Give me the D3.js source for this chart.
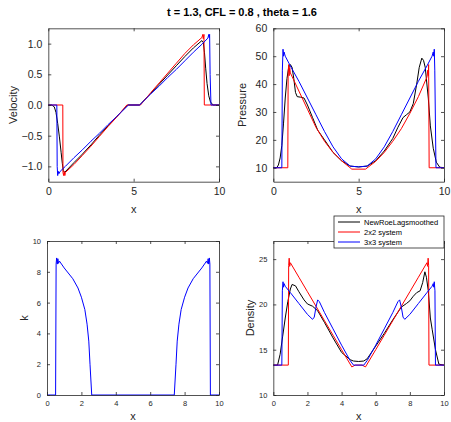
<!DOCTYPE html>
<html>
<head>
<meta charset="utf-8">
<script src="https://cdn.jsdelivr.net/npm/d3@7"></script>
<style>
  html, body { margin: 0; padding: 0; background: #fff; }
  svg { display: block; font-family: "Liberation Sans", Arial, Helvetica, sans-serif; }
</style>
</head>
<body>
<svg id="fig" width="451" height="422"></svg>
<script>
// ---- data: [x, value] samples of each solution at t = 1.3 ----
const seriesNames = ["NewRoeLagsmoothed", "2x2 system", "3x3 system"];
const seriesColors = ["#000000", "#ff0000", "#0000ff"];

const velocityBlack = [[0,0],[0.2,0],[0.35,-0.03],[0.45,-0.12],[0.55,-0.3],[0.65,-0.52],[0.75,-0.77],[0.82,-0.95],[0.88,-1.07],[0.95,-1.1],[1.5,-0.94],[2,-0.8],[2.5,-0.65],[3,-0.49],[3.5,-0.34],[4,-0.19],[4.65,0],[5.35,0],[6,0.19],[6.5,0.34],[7,0.49],[7.5,0.64],[8,0.79],[8.5,0.93],[9,1.05],[9.08,1.02],[9.15,0.85],[9.22,0.6],[9.3,0.35],[9.4,0.15],[9.5,0.05],[9.65,0],[10,0]];
const velocityRed = [[0,0],[0.85,0],[0.86,-1.1],[0.9,-1.15],[0.93,-1.08],[0.97,-1.15],[1.0,-1.1],[1.5,-0.97],[2,-0.82],[2.5,-0.67],[3,-0.51],[3.5,-0.35],[4,-0.2],[4.6,0],[5.4,0],[6,0.2],[6.5,0.36],[7,0.52],[7.5,0.68],[8,0.84],[8.5,0.98],[9,1.1],[9.05,1.15],[9.08,1.08],[9.12,1.15],[9.14,0],[10,0]];
const velocityBlue = [[0,0],[0.5,0],[0.52,-1.0],[0.55,-1.15],[0.58,-1.08],[0.62,-1.12],[0.7,-1.08],[1,-1.0],[1.5,-0.86],[2,-0.73],[2.5,-0.59],[3,-0.46],[3.5,-0.32],[4,-0.19],[4.7,0],[5.35,0],[6,0.18],[6.5,0.31],[7,0.45],[7.5,0.58],[8,0.72],[8.5,0.86],[9,0.99],[9.35,1.09],[9.4,1.15],[9.43,1.1],[9.45,1.15],[9.48,0.5],[9.53,0],[10,0]];

const pressureBlack = [[0,10],[0.2,10],[0.3,11],[0.4,13.5],[0.5,18],[0.6,26],[0.7,35],[0.8,42],[0.9,46],[1.0,47],[1.1,46],[1.2,42],[1.3,37],[1.4,35.5],[1.6,35.3],[1.8,35],[2.0,32.5],[2.3,28],[2.6,23.5],[3,20],[3.5,15.5],[4,12.5],[4.5,10.6],[5,10.3],[5.5,10.6],[6,12.5],[6.5,16],[7,20.5],[7.3,24.5],[7.6,28],[7.8,29],[8.0,30],[8.2,33],[8.4,40],[8.55,46],[8.7,49.3],[8.8,48.5],[8.9,46],[9.08,35],[9.2,25],[9.37,17],[9.55,12],[9.75,10.2],[10,10]];
const pressureRed = [[0,10],[0.85,10],[0.87,44],[0.9,47],[0.93,43],[0.96,46],[1.0,44],[1.5,37.5],[2,31],[2.5,24.5],[3,19.5],[3.5,15.5],[4,12.5],[4.6,9.5],[5.4,9.5],[6,12.3],[6.5,15.5],[7,19.5],[7.5,24],[8,29.5],[8.5,35.5],[9,42.5],[9.05,45],[9.08,43],[9.1,47],[9.13,10],[10,10]];
const pressureBlue = [[0,10],[0.5,10],[0.53,45],[0.57,52.5],[0.6,50],[0.63,51.5],[0.7,50],[1,46.5],[1.5,41],[2,35],[2.5,29],[3,23],[3.5,17.5],[4,13.2],[4.5,10.6],[5,10.3],[5.5,10.6],[6,13.2],[6.5,17.5],[7,23],[7.5,29],[8,35],[8.5,41],[9,46.5],[9.3,50],[9.37,51.5],[9.4,50],[9.43,52.5],[9.46,45],[9.53,10],[10,10]];

const kBlue = [[0,0],[0.5,0],[0.53,8.5],[0.56,8.9],[0.6,8.5],[0.63,8.85],[0.67,8.55],[0.72,8.7],[1,8.25],[1.5,7.55],[1.8,6.95],[2.0,6.35],[2.2,5.55],[2.33,4.6],[2.43,3.5],[2.5,2],[2.6,0],[7.4,0],[7.5,2],[7.57,3.5],[7.67,4.6],[7.8,5.55],[8,6.35],[8.2,6.95],[8.5,7.55],[9,8.25],[9.28,8.7],[9.33,8.55],[9.37,8.85],[9.4,8.5],[9.44,8.9],[9.47,8.5],[9.5,0],[10,0]];

const densityBlack = [[0,13.3],[0.25,13.3],[0.4,14.5],[0.55,16.5],[0.7,18.5],[0.85,20.3],[1.0,21.7],[1.1,22.2],[1.3,22.05],[1.5,21.4],[1.8,20.5],[2.0,20.05],[2.3,19.8],[2.6,19.3],[3,18],[3.5,16.3],[4,14.7],[4.5,13.9],[4.7,13.75],[5,13.7],[5.3,13.75],[5.5,14],[6,15.4],[6.5,16.8],[7,18.3],[7.5,19.7],[7.8,20.1],[8.0,20.4],[8.2,20.9],[8.4,21.3],[8.6,21.5],[8.75,22.4],[8.88,23.6],[8.97,23],[9.08,21.5],[9.2,18.5],[9.31,17.2],[9.5,15],[9.7,13.4],[10,13.3]];
const densityRed = [[0,13.3],[0.88,13.3],[0.9,24.3],[0.93,25.1],[0.96,24.2],[1.0,24.6],[1.5,23],[2,21.4],[2.5,19.8],[3,18.2],[3.5,16.6],[4,15],[4.6,13.1],[4.8,13.3],[5.2,13.3],[5.4,13.1],[6,15],[6.5,16.6],[7,18.2],[7.5,19.8],[8,21.4],[8.5,23],[9.0,24.6],[9.04,24.2],[9.07,25.1],[9.1,24.3],[9.12,13.3],[10,13.3]];
const densityBlue = [[0,13.3],[0.5,13.3],[0.53,21.5],[0.57,22.5],[0.6,21.9],[0.63,22.3],[0.7,22],[1,21.3],[1.5,20.1],[2,18.9],[2.3,18.35],[2.4,18.6],[2.5,19.7],[2.6,20.5],[2.7,20.3],[3,19.1],[3.5,17.3],[4,15.5],[4.5,13.8],[4.7,13.3],[5.3,13.3],[5.5,13.8],[6,15.5],[6.5,17.3],[7,19.1],[7.3,20.3],[7.4,20.5],[7.5,19.7],[7.6,18.6],[7.7,18.35],[8,18.9],[8.5,20.1],[9,21.3],[9.3,22],[9.37,22.3],[9.4,21.9],[9.43,22.5],[9.47,21.5],[9.5,13.3],[10,13.3]];

const velocityTicks = [-1, -0.5, 0, 0.5, 1];
const pressureTicks = [10, 20, 30, 40, 50, 60];
const kTicks = [0, 2, 4, 6, 8, 10];
const densityTicks = [10, 15, 20, 25];
const xTicksTop = [0, 5, 10];
const xTicksBottom = [0, 2, 4, 6, 8, 10];

const titleText = "t = 1.3, CFL = 0.8 , theta = 1.6";

// ---- drawing ----
const svg = d3.select("#fig");
const axisColor = "#262626";

function panel(opt) {
  const x = d3.scaleLinear().domain([0, 10]).range([opt.left, opt.right]);
  const y = d3.scaleLinear().domain(opt.yDomain).range([opt.bottom, opt.top]);
  const g = svg.append("g");
  const tickLen = 3;

  // data lines, drawn in series order
  const line = d3.line().x(d => x(d[0])).y(d => y(d[1]));
  opt.series.forEach((s, i) => {
    if (!s) return;
    g.append("path").datum(s)
      .attr("fill", "none")
      .attr("stroke", seriesColors[i])
      .attr("stroke-width", 1)
      .attr("stroke-linejoin", "round")
      .attr("d", line);
  });

  // box axes with inward ticks on all sides
  const axB = d3.axisBottom(x).tickValues(opt.xTicks).tickSizeInner(-tickLen).tickSizeOuter(0).tickPadding(6);
  const axT = d3.axisTop(x).tickValues(opt.xTicks).tickSizeInner(-tickLen).tickSizeOuter(0).tickFormat("");
  const axL = d3.axisLeft(y).tickValues(opt.yTicks).tickSizeInner(-tickLen).tickSizeOuter(0).tickPadding(6);
  const axR = d3.axisRight(y).tickValues(opt.yTicks).tickSizeInner(-tickLen).tickSizeOuter(0).tickFormat("");

  const style = sel => {
    sel.select(".domain").attr("stroke", axisColor).attr("stroke-width", 0.8);
    sel.selectAll(".tick line").attr("stroke", axisColor).attr("stroke-width", 0.8);
    sel.selectAll(".tick text").attr("fill", axisColor).attr("font-size", opt.tickFont)
      .attr("font-family", "Liberation Sans, Arial, sans-serif");
  };
  g.append("g").attr("transform", `translate(0,${opt.bottom})`).call(axB).call(style);
  g.append("g").attr("transform", `translate(0,${opt.top})`).call(axT).call(style);
  g.append("g").attr("transform", `translate(${opt.left},0)`).call(axL).call(style);
  g.append("g").attr("transform", `translate(${opt.right},0)`).call(axR).call(style);

  // axis labels
  g.append("text")
    .attr("x", (opt.left + opt.right) / 2).attr("y", opt.xLabelY)
    .attr("text-anchor", "middle").attr("font-size", 11).attr("fill", axisColor)
    .text("x");
  g.append("text")
    .attr("transform", `translate(${opt.yLabelX},${(opt.top + opt.bottom) / 2}) rotate(-90)`)
    .attr("text-anchor", "middle").attr("font-size", 11).attr("fill", axisColor)
    .text(opt.yLabel);
}

panel({
  left: 48.3, right: 219, top: 28.3, bottom: 181.7,
  yDomain: [-1.25, 1.25], yTicks: velocityTicks, xTicks: xTicksTop,
  tickFont: 10.5, yLabel: "Velocity", yLabelX: 17, xLabelY: 213,
  series: [velocityBlack, velocityRed, velocityBlue]
});
panel({
  left: 273.3, right: 444, top: 28.3, bottom: 181.7,
  yDomain: [5, 60], yTicks: pressureTicks, xTicks: xTicksTop,
  tickFont: 10.5, yLabel: "Pressure", yLabelX: 246, xLabelY: 213,
  series: [pressureBlack, pressureRed, pressureBlue]
});
panel({
  left: 47, right: 219, top: 241, bottom: 395,
  yDomain: [0, 10], yTicks: kTicks, xTicks: xTicksBottom,
  tickFont: 7.5, yLabel: "k", yLabelX: 28, xLabelY: 420,
  series: [null, null, kBlue]
});
panel({
  left: 273.3, right: 444, top: 241, bottom: 395,
  yDomain: [10, 27], yTicks: densityTicks, xTicks: xTicksBottom,
  tickFont: 7.5, yLabel: "Density", yLabelX: 254, xLabelY: 420,
  series: [densityBlack, densityRed, densityBlue]
});

// title
svg.append("text")
  .attr("x", 242).attr("y", 16)
  .attr("text-anchor", "middle").attr("font-size", 11).attr("font-weight", "bold")
  .attr("fill", "#000")
  .text(titleText);

// legend
const leg = svg.append("g").attr("transform", "translate(334,216)");
leg.append("rect").attr("width", 110).attr("height", 32)
  .attr("fill", "#fff").attr("stroke", axisColor).attr("stroke-width", 0.8);
seriesNames.forEach((name, i) => {
  const yy = 6 + i * 10;
  leg.append("line").attr("x1", 4).attr("x2", 26).attr("y1", yy).attr("y2", yy)
    .attr("stroke", seriesColors[i]).attr("stroke-width", 1);
  leg.append("text").attr("x", 30).attr("y", yy + 2.6)
    .attr("font-size", 7.5).attr("fill", "#000").text(name);
});
</script>
</body>
</html>
